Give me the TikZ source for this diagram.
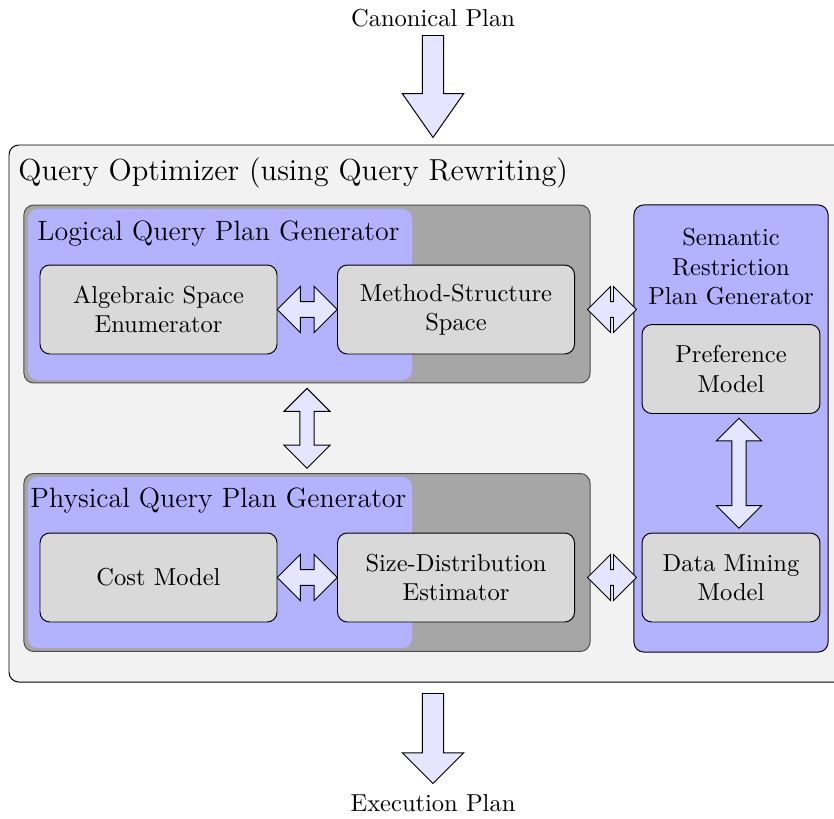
\documentclass[tikz,border=0pt]{standalone}
\usetikzlibrary{shapes.arrows,calc}

\begin{document}
\begin{tikzpicture}[x=4.08pt,y=-4.08pt,
    module/.style={draw,fill=gray!30,rounded corners,align=center,
        minimum width=96.7pt,minimum height=36.3pt},
    smallmodule/.style={module,minimum width=72.6pt},
    genbox/.style={draw=black!70,fill=gray!70,rounded corners,
        minimum width=231pt,minimum height=72.6pt},
    genback/.style={fill=blue!30,rounded corners,
        minimum width=156.7pt,minimum height=69.8pt},
    boxtitle/.style={anchor=west,inner sep=0pt,font=\fontsize{11.4}{14}\selectfont},
    dblarrow/.style={double arrow,draw,fill=blue!10,inner xsep=0.5pt,
        inner ysep=3pt,double arrow head extend=6.2pt},
    bigarrow/.style={single arrow,draw,fill=blue!10,rotate=-90,anchor=tail,
        inner xsep=0.5pt,inner ysep=4.1pt,single arrow head extend=8.2pt}]
    \useasboundingbox (0,0) rectangle (83.4,81.8);

    % input and output
    \node (canon) at (43.3,1.8) {Canonical Plan};
    \coordinate (intail) at (43.3,3.5);
    \node[bigarrow,single arrow tip angle=70,minimum height=41.6pt] (inarrow) at (intail) {};
    \node (exec) at (43.3,80.3) {Execution Plan};
    \coordinate (outtail) at (43.3,69.3);
    \node[bigarrow,minimum height=36.7pt] (outarrow) at (outtail) {};

    % optimizer
    \draw[fill=gray!10,rounded corners] (0.9,14.5) rectangle (84.5,68.2);
    \node[boxtitle,font=\fontsize{12.4}{15}\selectfont] (qo) at (1.8,17.3) {Query Optimizer (using Query Rewriting)};

    \node[genbox] (logical) at (30.7,29.4) {};
    \node[genback] (logback) at (22.0,29.45) {};
    \node[boxtitle] (logtitle) at (3.7,23.4) {Logical Query Plan Generator};
    \node[module] (alg) at (15.85,30.95) {Algebraic Space\\Enumerator};
    \node[module] (mss) at (45.6,30.95) {Method-Structure\\Space};

    \node[genbox] (physical) at (30.7,56.25) {};
    \node[genback] (physback) at (22.0,56.25) {};
    \node[boxtitle] (phystitle) at (3.0,50.0) {Physical Query Plan Generator};
    \node[module] (cost) at (15.85,57.75) {Cost Model};
    \node[module] (sde) at (45.6,57.75) {Size-Distribution\\Estimator};

    \node[draw,fill=blue!30,rounded corners,minimum width=79.2pt,minimum height=182.4pt] (sem) at (73.1,42.85) {};
    \node[align=center] (semtitle) at (73.1,26.7) {Semantic\\Restriction\\Plan Generator};
    \node[smallmodule] (pref) at (73.1,36.9) {Preference\\Model};
    \node[smallmodule] (dmm) at (73.1,57.75) {Data Mining\\Model};

    % arrows
    \node[dblarrow,minimum height=24.5pt] at ($(alg.east)!.5!(mss.west)$) {};
    \node[dblarrow,minimum height=24.5pt] at ($(cost.east)!.5!(sde.west)$) {};
    \node[dblarrow,minimum height=20pt] at ($(logical.east |- mss.east)!.5!(sem.west |- mss.east)$) {};
    \node[dblarrow,minimum height=20pt] at ($(physical.east |- sde.east)!.5!(sem.west |- sde.east)$) {};
    \node[dblarrow,rotate=90,minimum height=32.6pt,inner ysep=2.7pt,double arrow head extend=6.5pt]
        at ($(logical.south)!.5!(physical.north)$) {};
    \node[dblarrow,rotate=90,minimum height=44.9pt,inner ysep=2.7pt,double arrow head extend=6.3pt]
        at ($(pref.south)!.5!(dmm.north)+(0.8,0)$) {};
\end{tikzpicture}
\end{document}
